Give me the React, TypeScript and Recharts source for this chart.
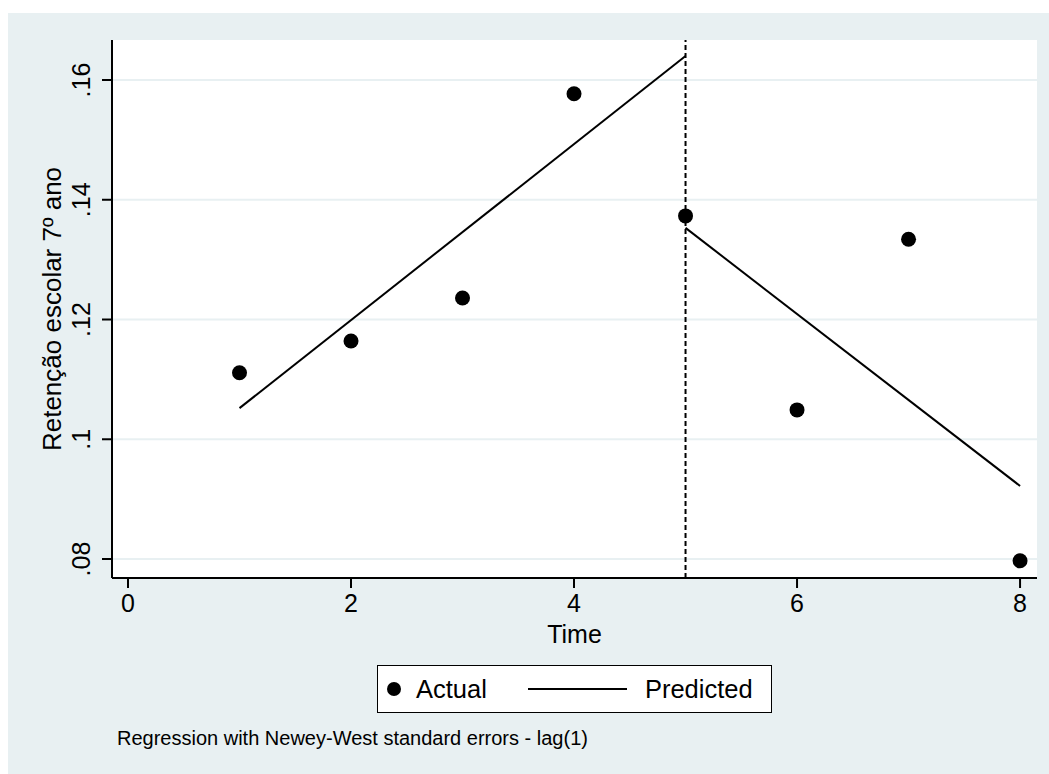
import { ComposedChart, Scatter, Line, XAxis, YAxis, CartesianGrid, ReferenceLine, Legend } from "recharts";

// Observed values
const times = [1, 2, 3, 4, 5, 6, 7, 8];
const actual = [0.1111, 0.1164, 0.1236, 0.1577, 0.1373, 0.1049, 0.1334, 0.0797];

// Fitted segments (pre / post intervention)
const preTimes = [1, 5];
const prePredicted = [0.1052, 0.164];
const postTimes = [5, 8];
const postPredicted = [0.1353, 0.0922];

const xTicks = [0, 2, 4, 6, 8];
const yTicks = [0.08, 0.1, 0.12, 0.14, 0.16];
const yTickLabels = [".08", ".1", ".12", ".14", ".16"];
const interruption = 5;

const actualData = times.map((t, i) => ({ t, actual: actual[i] }));
const preData = preTimes.map((t, i) => ({ t, predicted: prePredicted[i] }));
const postData = postTimes.map((t, i) => ({ t, predicted: postPredicted[i] }));

const FONT = "'Liberation Sans', Arial, sans-serif";
const BG = "#e8f0f2";

const YTick = (props: any) => {
  const { x, y, payload } = props;
  const idx = yTicks.indexOf(payload.value);
  const label = idx >= 0 ? yTickLabels[idx] : String(payload.value);
  const bx = x - 12;
  return (
    <text x={bx} y={y} transform={`rotate(-90 ${bx} ${y})`} textAnchor="middle" fontSize={25} fontFamily={FONT} fill="#000">
      {label}
    </text>
  );
};

const XTick = (props: any) => {
  const { x, y, payload } = props;
  return (
    <text x={x} y={y + 20} textAnchor="middle" fontSize={25} fontFamily={FONT} fill="#000">
      {payload.value}
    </text>
  );
};

const LegendBox = () => (
  <div
    style={{
      width: 393,
      height: 46,
      border: "1.5px solid #000",
      background: "#fff",
      display: "flex",
      alignItems: "center",
      fontFamily: FONT,
      fontSize: 25.5,
      color: "#000",
      boxSizing: "content-box",
    }}
  >
    <span style={{ width: 14, height: 14, borderRadius: 7, background: "#000", marginLeft: 9 }} />
    <span style={{ marginLeft: 15 }}>Actual</span>
    <span style={{ width: 99, height: 2, background: "#000", marginLeft: 41 }} />
    <span style={{ marginLeft: 18 }}>Predicted</span>
  </div>
);

export default function App() {
  return (
    <div style={{ position: "absolute", left: 0, top: 0, width: 1049, height: 774, background: "#fff", overflow: "hidden" }}>
      <div style={{ position: "absolute", left: 8, top: 13, width: 1041, height: 761, background: BG }} />
      <div style={{ position: "absolute", left: 0, top: 0 }}>
        <ComposedChart width={1049} height={774} margin={{ top: 40, right: 12, bottom: 136, left: 32 }}>
          <CartesianGrid vertical={false} horizontalValues={yTicks} stroke={BG} strokeWidth={2} fill="#fff" />
          <XAxis
            type="number"
            dataKey="t"
            domain={[-0.1435, 8.152]}
            ticks={xTicks}
            allowDataOverflow
            height={60}
            tickSize={10}
            tickMargin={4}
            axisLine={{ stroke: "#000", strokeWidth: 2 }}
            tickLine={{ stroke: "#000", strokeWidth: 2 }}
            tick={<XTick />}
            label={{
              content: (p: any) => {
                const vb = p.viewBox;
                return (
                  <text x={vb.x + vb.width / 2} y={643} textAnchor="middle" fontSize={25} fontFamily={FONT} fill="#000">
                    Time
                  </text>
                );
              },
            }}
          />
          <YAxis
            type="number"
            domain={[0.07683, 0.16668]}
            ticks={yTicks}
            allowDataOverflow
            width={80}
            tickSize={10}
            tickMargin={0}
            axisLine={{ stroke: "#000", strokeWidth: 2 }}
            tickLine={{ stroke: "#000", strokeWidth: 2 }}
            tick={<YTick />}
            label={{
              content: (p: any) => {
                const vb = p.viewBox;
                const cx = 61;
                const cy = vb.y + vb.height / 2;
                return (
                  <text x={cx} y={cy} transform={`rotate(-90 ${cx} ${cy})`} textAnchor="middle" fontSize={26} fontFamily={FONT} fill="#000">
                    Retenção escolar 7º ano
                  </text>
                );
              },
            }}
          />
          <ReferenceLine x={interruption} stroke="#000" strokeWidth={2} strokeDasharray="5 3" />
          <Line data={preData} dataKey="predicted" type="linear" stroke="#000" strokeWidth={2} dot={false} isAnimationActive={false} />
          <Line data={postData} dataKey="predicted" type="linear" stroke="#000" strokeWidth={2} dot={false} isAnimationActive={false} />
          <Scatter data={actualData} dataKey="actual" fill="#000" shape={(p: any) => <circle cx={p.cx} cy={p.cy} r={7.5} fill="#000" />} isAnimationActive={false} />
          <Legend
            layout="horizontal"
            verticalAlign="middle"
            align="center"
            content={<LegendBox />}
            wrapperStyle={{ position: "absolute", left: 377, top: 665, width: "auto", height: "auto", bottom: "auto" }}
          />
        </ComposedChart>
      </div>
      <div style={{ position: "absolute", left: 117, top: 727, fontFamily: FONT, fontSize: 20, color: "#000", whiteSpace: "nowrap" }}>
        Regression with Newey-West standard errors - lag(1)
      </div>
    </div>
  );
}
